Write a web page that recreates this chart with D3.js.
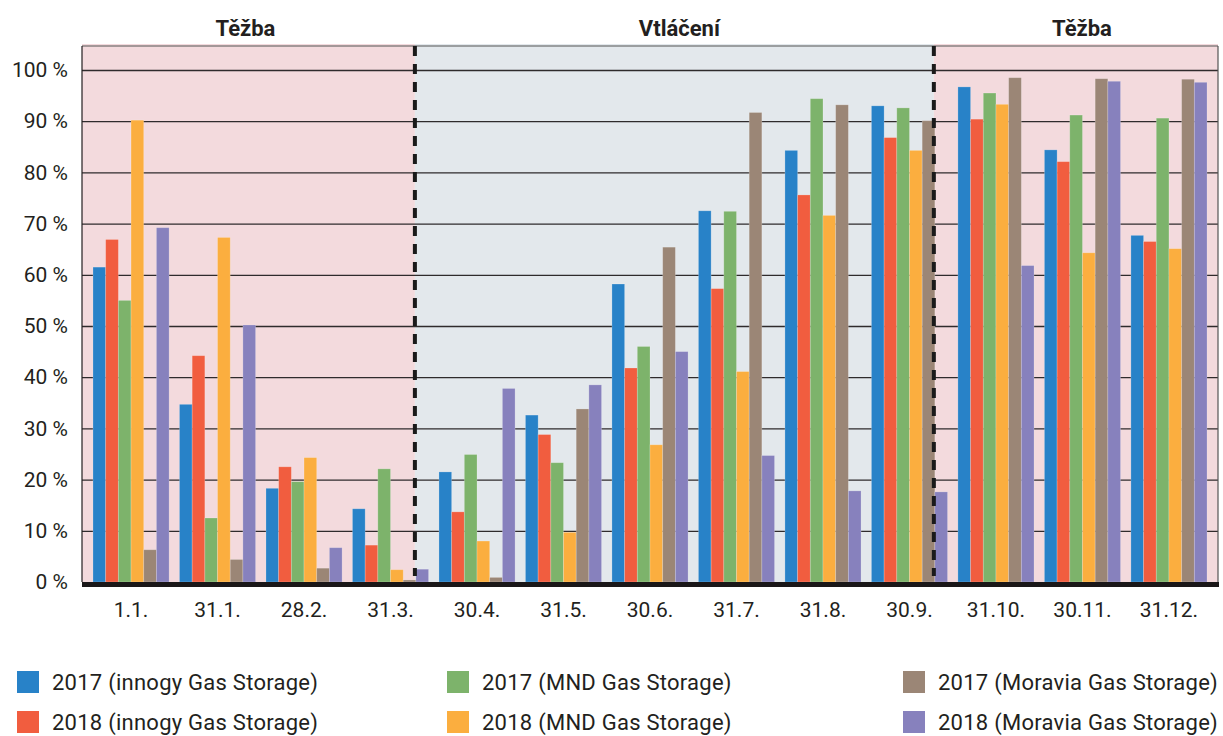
<!DOCTYPE html>
<html>
<head>
<meta charset="utf-8">
<script src="https://cdn.jsdelivr.net/npm/d3@7"></script>
<style>
  body { margin: 0; background: #fff; }
  svg text { font-family: Roboto, "Open Sans", sans-serif; fill: #231f20; }
</style>
</head>
<body>
<div id="viz"></div>
<script>
// data (% of capacity)
var categories = ["1.1.", "31.1.", "28.2.", "31.3.", "30.4.", "31.5.", "30.6.", "31.7.", "31.8.", "30.9.", "31.10.", "30.11.", "31.12."];
var innogy2017  = [61.5, 34.7, 18.3, 14.3, 21.5, 32.6, 58.2, 72.5, 84.3, 93.0, 96.7, 84.4, 67.7];
var innogy2018  = [66.9, 44.2, 22.5,  7.2, 13.7, 28.8, 41.8, 57.3, 75.6, 86.8, 90.4, 82.1, 66.5];
var mnd2017     = [55.0, 12.5, 19.6, 22.1, 24.9, 23.3, 46.0, 72.4, 94.4, 92.6, 95.5, 91.2, 90.6];
var mnd2018     = [90.2, 67.3, 24.3,  2.4,  8.0,  9.7, 26.8, 41.1, 71.6, 84.3, 93.3, 64.3, 65.1];
var moravia2017 = [ 6.3,  4.4,  2.7,  0.4,  0.9, 33.8, 65.4, 91.7, 93.2, 90.1, 98.5, 98.3, 98.2];
var moravia2018 = [69.2, 50.2,  6.7,  2.5, 37.8, 38.5, 45.0, 24.7, 17.8, 17.6, 61.8, 97.8, 97.6];

var seriesNames = ["2017 (innogy Gas Storage)", "2018 (innogy Gas Storage)", "2017 (MND Gas Storage)",
                   "2018 (MND Gas Storage)", "2017 (Moravia Gas Storage)", "2018 (Moravia Gas Storage)"];
var seriesValues = [innogy2017, innogy2018, mnd2017, mnd2018, moravia2017, moravia2018];
var colors = ["#2882c8", "#f15d3f", "#7db36b", "#fbae3f", "#9b8676", "#8781bd"];

var yTicks = [0, 10, 20, 30, 40, 50, 60, 70, 80, 90, 100];

// sections: label + last category of the section (boundary drawn after it)
var sectionLabels = ["Těžba", "Vtláčení", "Těžba"];
var sectionEnds = ["31.3.", "30.9.", null];

var width = 1223, height = 736;
var plotLeft = 82, plotRight = 1218, plotTop = 46, plotBottom = 582;

var svg = d3.select("#viz").append("svg")
  .attr("width", width)
  .attr("height", height);

var x0 = d3.scaleBand()
  .domain(categories)
  .range([plotLeft, plotRight])
  .paddingInner(0.12)
  .paddingOuter(0.127);

var x1 = d3.scaleBand()
  .domain(d3.range(seriesNames.length))
  .range([0, x0.bandwidth()]);

var y = d3.scaleLinear()
  .domain([0, 100])
  .range([plotBottom, 70]);

// section boundaries
var bounds = [plotLeft];
sectionEnds.forEach(function(c){
  if (c) bounds.push(x0(c) + x1(seriesNames.length - 1) - 1);
});
bounds.push(plotRight);

var sectionFill = ["#f3dadd", "#e3e8ec", "#f3dadd"];
var titleShift = [-3, 5, 6];
sectionLabels.forEach(function(lbl, i){
  svg.append("rect")
    .attr("x", bounds[i])
    .attr("y", plotTop - 2)
    .attr("width", bounds[i+1] - bounds[i])
    .attr("height", plotBottom - plotTop + 2)
    .attr("fill", sectionFill[i]);
  svg.append("text")
    .attr("x", (bounds[i] + bounds[i+1]) / 2 + titleShift[i])
    .attr("y", 36)
    .attr("text-anchor", "middle")
    .style("font-size", "22px")
    .style("font-weight", "bold")
    .text(lbl);
});

// grid
svg.append("g")
  .attr("class", "grid")
  .attr("transform", "translate(" + plotLeft + ",0)")
  .call(d3.axisLeft(y).tickValues(yTicks.slice(1)).tickSize(-(plotRight - plotLeft)).tickFormat(""))
  .call(function(g){ g.select(".domain").remove(); })
  .selectAll("line")
  .attr("stroke", "#2f2b2c")
  .attr("stroke-width", 1.3);

// frame top / left / right
svg.append("line").attr("x1", plotLeft).attr("x2", plotRight).attr("y1", plotTop).attr("y2", plotTop)
  .attr("stroke", "#555").attr("stroke-width", 1.2);
svg.append("line").attr("x1", plotLeft).attr("x2", plotLeft).attr("y1", plotTop).attr("y2", plotBottom)
  .attr("stroke", "#231f20").attr("stroke-width", 1.2);
svg.append("line").attr("x1", plotRight).attr("x2", plotRight).attr("y1", plotTop).attr("y2", plotBottom)
  .attr("stroke", "#555").attr("stroke-width", 1.2);

// bars
var groups = svg.selectAll(".grp")
  .data(categories)
  .enter()
  .append("g")
  .attr("class", "grp")
  .attr("transform", function(d){ return "translate(" + x0(d) + ",0)"; });

groups.selectAll("rect")
  .data(function(d, ci){ return seriesValues.map(function(s, si){ return {s: si, v: s[ci]}; }); })
  .enter()
  .append("rect")
  .attr("x", function(d){ return x1(d.s); })
  .attr("y", function(d){ return y(d.v); })
  .attr("width", x1.bandwidth())
  .attr("height", function(d){ return y(0) - y(d.v); })
  .attr("fill", function(d){ return colors[d.s]; })
  .attr("stroke", "rgba(255,255,255,0.25)")
  .attr("stroke-width", 0.8);

// dashed section dividers
bounds.slice(1, -1).forEach(function(bx){
  svg.append("line")
    .attr("x1", bx).attr("x2", bx)
    .attr("y1", plotTop).attr("y2", plotBottom - 6)
    .attr("stroke", "#1a1a1a")
    .attr("stroke-width", 4)
    .attr("stroke-dasharray", "10,8");
});

// baseline
svg.append("line")
  .attr("x1", plotLeft).attr("x2", plotRight + 1)
  .attr("y1", y(0) + 2.5).attr("y2", y(0) + 2.5)
  .attr("stroke", "#1a1718")
  .attr("stroke-width", 5);

// y axis labels
svg.append("g")
  .attr("transform", "translate(" + plotLeft + ",0)")
  .call(d3.axisLeft(y).tickValues(yTicks).tickSize(0).tickPadding(14)
    .tickFormat(function(d){ return d + " %"; }))
  .call(function(g){ g.select(".domain").remove(); })
  .selectAll("text")
  .style("font-size", "21px")
  .attr("fill", "#231f20");

// x axis labels
svg.append("g")
  .attr("transform", "translate(0," + plotBottom + ")")
  .call(d3.axisBottom(x0).tickSize(0).tickPadding(20))
  .call(function(g){ g.select(".domain").remove(); })
  .selectAll("text")
  .style("font-size", "21px")
  .attr("fill", "#231f20");

// legend: 3 columns (company) x 2 rows (year)
var legCols = [17, 447, 903];
var legRows = [671, 711];
seriesNames.forEach(function(name, i){
  var cx = legCols[Math.floor(i / 2)], ry = legRows[i % 2];
  svg.append("rect")
    .attr("x", cx).attr("y", ry)
    .attr("width", 22).attr("height", 22)
    .attr("fill", colors[i]);
  svg.append("text")
    .attr("x", cx + 35)
    .attr("y", ry + 11)
    .attr("dy", "0.35em")
    .style("font-size", "22px")
    .style("letter-spacing", "0.25px")
    .text(name);
});
</script>
</body>
</html>
